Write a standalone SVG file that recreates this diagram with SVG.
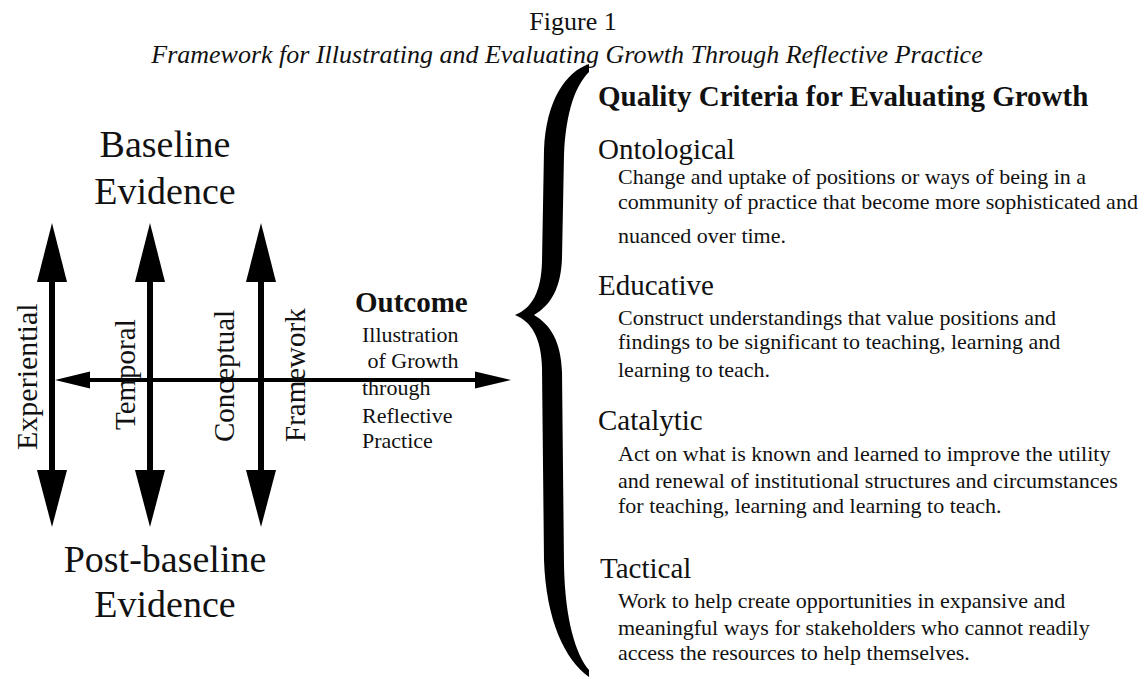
<svg xmlns="http://www.w3.org/2000/svg" width="1146" height="679" viewBox="0 0 1146 679">
<style>
text{font-family:"Liberation Serif","Times New Roman",serif;fill:#111}
.cap{font-size:26px}
.capi{font-size:26px;font-style:italic}
.big{font-size:38px;text-anchor:middle}
.rot{font-size:29px}
.out{font-size:22px}
.outb{font-size:29px;font-weight:bold}
.qt{font-size:29px;font-weight:bold}
.hd{font-size:29px}
.bd{font-size:22px}
.shaft{stroke:#000;stroke-width:6;fill:none}
.hshaft{stroke:#000;stroke-width:4;fill:none}
.head{fill:#000}
</style>
<rect width="1146" height="679" fill="#fff"/>
<g id="caption">
<text class="cap" x="573" y="30" text-anchor="middle">Figure 1</text>
<text class="capi" x="567" y="63" text-anchor="middle">Framework for Illustrating and Evaluating Growth Through Reflective Practice</text>
</g>
<g id="connectors">
<line class="shaft" x1="52" y1="275" x2="52" y2="478"/>
<polygon class="head" points="52,223 37,282 67,282"/>
<polygon class="head" points="37,470 67,470 52,527"/>
<line class="shaft" x1="150" y1="275" x2="150" y2="478"/>
<polygon class="head" points="150,223 135,282 165,282"/>
<polygon class="head" points="135,470 165,470 150,527"/>
<line class="shaft" x1="261" y1="275" x2="261" y2="478"/>
<polygon class="head" points="261,223 246,282 276,282"/>
<polygon class="head" points="246,470 276,470 261,527"/>
<line class="hshaft" x1="85" y1="380" x2="480" y2="380"/>
<polygon class="head" points="55,380 90,371.5 90,388.5"/>
<polygon class="head" points="511,380 475,371.5 475,388.5"/>
</g>
<g id="baseline">
<text class="big" x="165" y="157">Baseline</text>
<text class="big" x="165" y="204">Evidence</text>
</g>
<g id="postbaseline">
<text class="big" x="165" y="572">Post-baseline</text>
<text class="big" x="165" y="617">Evidence</text>
</g>
<g id="experiential"><text class="rot" style="font-size:30px" transform="translate(37,450) rotate(-90)">Experiential</text></g>
<g id="temporal"><text class="rot" transform="translate(135,430) rotate(-90)">Temporal</text></g>
<g id="conceptual"><text class="rot" transform="translate(234,442) rotate(-90)">Conceptual</text></g>
<g id="framework"><text class="rot" transform="translate(305,442) rotate(-90)">Framework</text></g>
<g id="outcome">
<text class="outb" x="355" y="312">Outcome</text>
<text class="out" x="362" y="342">Illustration</text>
<text class="out" x="362" y="368" xml:space="preserve"> of Growth</text>
<text class="out" x="362" y="395">through</text>
<text class="out" x="362" y="423">Reflective</text>
<text class="out" x="362" y="448">Practice</text>
</g>
<g id="brace">
<path fill="#000" d="M589,64 C566,72 546,100 544,150 L542,262 C541,292 532,308 515,315 C532,322 541,338 542,368 L544,560 C546,620 565,660 589,677 L589,670 C576,655 565,620 564,565 L562,372 C561,342 551,325 534,315 C551,305 561,288 562,258 L564,155 C566,110 576,85 589,72 Z"/>
</g>
<g id="criteria-title"><text class="qt" x="598" y="106">Quality Criteria for Evaluating Growth</text></g>
<g id="ontological">
<text class="hd" x="598" y="159">Ontological</text>
<text class="bd" x="618" y="184">Change and uptake of positions or ways of being in a</text>
<text class="bd" x="618" y="209">community of practice that become more sophisticated and</text>
<text class="bd" x="618" y="243">nuanced over time.</text>
</g>
<g id="educative">
<text class="hd" x="598" y="295">Educative</text>
<text class="bd" x="618" y="325">Construct understandings that value positions and</text>
<text class="bd" x="618" y="349">findings to be significant to teaching, learning and</text>
<text class="bd" x="618" y="377">learning to teach.</text>
</g>
<g id="catalytic">
<text class="hd" x="598" y="430">Catalytic</text>
<text class="bd" x="618" y="461">Act on what is known and learned to improve the utility</text>
<text class="bd" x="618" y="488">and renewal of institutional structures and circumstances</text>
<text class="bd" x="618" y="513">for teaching, learning and learning to teach.</text>
</g>
<g id="tactical">
<text class="hd" x="600" y="578">Tactical</text>
<text class="bd" x="618" y="608">Work to help create opportunities in expansive and</text>
<text class="bd" x="618" y="635">meaningful ways for stakeholders who cannot readily</text>
<text class="bd" x="618" y="660">access the resources to help themselves.</text>
</g>
</svg>
